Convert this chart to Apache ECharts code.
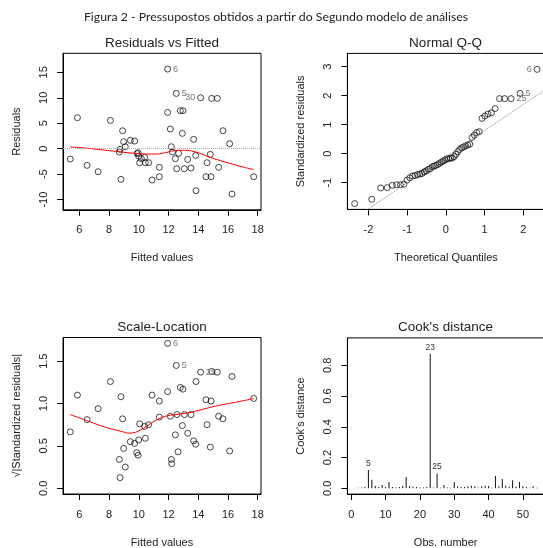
<!DOCTYPE html>
<html>
<head>
<meta charset="utf-8">
<script src="https://cdn.jsdelivr.net/npm/echarts@6/dist/echarts.min.js"></script>
<style>
html, body { margin: 0; padding: 0; background: #fff; }
#main { width: 543px; height: 548px; }
</style>
</head>
<body>
<div id="main"></div>
<script>
// Residuals vs Fitted
var rvfFitted = [5.39, 5.87, 6.52, 7.26, 8.09, 8.80, 8.69, 8.74, 8.91, 8.98, 9.09, 9.43, 9.72, 9.88, 9.95, 9.99, 10.06, 10.17,
    10.39, 10.44, 10.66, 10.89, 11.38, 11.38, 11.94, 11.94, 12.12, 12.19, 12.26, 12.46, 12.52, 12.55, 12.68, 12.79, 12.97,
    12.93, 13.06, 13.29, 13.51, 13.69, 13.83, 13.85, 14.16, 14.52, 14.59, 14.81, 14.86, 14.90, 15.28, 15.37, 15.66, 16.11,
    16.27, 17.73];
var rvfResid = [-2.03, 6.09, -3.27, -4.52, 5.56, -6.02, -0.65, -0.13, 3.53, 1.37, 0.39, 1.64, 1.51, -0.95, -0.79, -1.44, -2.75, -1.96,
    -1.70, -2.75, -2.75, -6.15, -3.66, -5.50, 15.64, 7.13, 3.86, 0.39, -0.65, -1.96, 10.86, -3.93, -0.92, 7.46, 7.46,
    3.01, -3.93, -2.09, -3.80, 1.83, -1.31, -8.25, 10.01, -5.50, -2.75, -1.11, -5.50, 9.88, 9.88, -3.66, 3.53, 0.98,
    -8.90, -5.50];
var rvfLabels = [[24, '6', 'right'], [30, '5', 'right'], [42, '30', 'left']];
var rvfSmoothX = [5.39, 6.5, 7.75, 8.87, 9.65, 10.5, 11.2, 11.9, 12.4, 13.0, 13.5, 14.1, 14.6, 15.2, 15.8, 16.4, 17.0, 17.73];
var rvfSmoothY = [0.35, 0.1, -0.3, -0.65, -0.9, -1.05, -1.05, -0.7, -0.35, -0.3, -0.4, -0.9, -1.5, -2.1, -2.6, -3.1, -3.6, -4.1];

// Normal Q-Q
var qqTheo = [-2.355, -1.914, -1.682, -1.515, -1.383, -1.271, -1.173, -1.085, -1.005, -0.931, -0.861, -0.796, -0.734, -0.674,
    -0.617, -0.562, -0.508, -0.456, -0.405, -0.355, -0.306, -0.258, -0.210, -0.163, -0.116, -0.070, -0.023,
    0.023, 0.070, 0.116, 0.163, 0.210, 0.258, 0.306, 0.355, 0.405, 0.456, 0.508, 0.562, 0.617, 0.674, 0.734,
    0.796, 0.861, 0.931, 1.005, 1.085, 1.173, 1.271, 1.383, 1.515, 1.682, 1.914, 2.355];
var qqStdRes = [-1.72, -1.57, -1.18, -1.17, -1.09, -1.07, -1.07, -1.05, -0.91, -0.83, -0.77, -0.75, -0.72, -0.70,
    -0.68, -0.63, -0.59, -0.54, -0.52, -0.45, -0.43, -0.40, -0.37, -0.33, -0.29, -0.25, -0.22,
    -0.17, -0.17, -0.15, -0.15, -0.10, -0.02, 0.07, 0.15, 0.20, 0.23, 0.27, 0.30, 0.33, 0.56, 0.64,
    0.73, 0.76, 1.22, 1.30, 1.37, 1.41, 1.56, 1.90, 1.90, 1.90, 2.08, 2.91];
var qqLabels = [[51, '25', 'right'], [52, '5', 'right'], [53, '6', 'left']];
var qqIntercept = -0.1;
var qqSlope = 0.9;

// Scale-Location
var slFitted = [5.39, 5.87, 6.52, 7.26, 8.09, 8.80, 8.69, 8.74, 8.91, 8.98, 9.09, 9.43, 9.72, 9.86, 9.95, 9.99, 10.06, 10.39,
    10.44, 10.66, 10.89, 11.38, 11.38, 11.94, 11.94, 12.12, 12.19, 12.21, 12.46, 12.52, 12.57, 12.64, 12.79, 12.97,
    12.93, 13.06, 13.29, 13.51, 13.69, 13.83, 13.85, 14.16, 14.52, 14.59, 14.81, 14.86, 14.90, 15.28, 15.37, 15.66,
    16.11, 16.27, 17.73];
var slSqrtRes = [0.665, 1.10, 0.81, 0.94, 1.26, 1.08, 0.34, 0.125, 0.82, 0.47, 0.25, 0.55, 0.53, 0.42, 0.39, 0.57, 0.76, 0.73,
    0.59, 0.75, 1.10, 1.03, 0.84, 1.71, 1.14, 0.85, 0.34, 0.29, 0.63, 1.45, 0.87, 0.43, 1.19, 1.17,
    0.74, 0.87, 0.65, 0.87, 0.56, 0.52, 1.26, 1.37, 1.045, 0.75, 0.485, 1.03, 1.38, 1.37, 0.85, 0.82,
    0.44, 1.32, 1.06];
var slLabels = [[23, '6', 'right'], [29, '5', 'right'], [41, '25', 'right']];
var slSmoothX = [5.39, 6.63, 7.75, 8.87, 9.32, 9.77, 10.44, 11.11, 11.78, 12.46, 13.35, 14.25, 15.15, 16.04, 16.94, 17.73];
var slSmoothY = [0.87, 0.79, 0.72, 0.67, 0.65, 0.66, 0.72, 0.80, 0.85, 0.87, 0.89, 0.93, 0.97, 1.00, 1.03, 1.06];

// Cook's distance (obs 1..54)
var cooksD = [0.002, 0.004, 0.006, 0.008, 0.119, 0.056, 0.015, 0.009, 0.022, 0.009,
    0.041, 0.009, 0.006, 0.008, 0.015, 0.074, 0.015, 0.010, 0.008, 0.006,
    0.006, 0.008, 0.875, 0.006, 0.097, 0.004, 0.022, 0.006, 0.004, 0.041,
    0.013, 0.009, 0.009, 0.013, 0.017, 0.013, 0.006, 0.013, 0.017, 0.015,
    0.004, 0.080, 0.013, 0.061, 0.017, 0.011, 0.052, 0.011, 0.041, 0.015,
    0.009, 0.004, 0.013, 0.004];
var cooksLabels = { 5: '5', 23: '23', 25: '25' };

// tick labels
var fittedTicks = [6, 8, 10, 12, 14, 16, 18];
var residTicks = [-10, -5, 0, 5, 10, 15];
var qqXTicks = [-2, -1, 0, 1, 2];
var qqYTicks = [-1, 0, 1, 2, 3];
var slYTicks = [0, 0.5, 1.0, 1.5];
var obsTicks = [0, 10, 20, 30, 40, 50];
var cooksTicks = [0, 0.2, 0.4, 0.6, 0.8];

var FONT = 'Liberation Sans, Arial, sans-serif';
var TXT = '#222';

function pairs(xs, ys) {
    var out = [];
    for (var i = 0; i < xs.length; i++) out.push([xs[i], ys[i]]);
    return out;
}

function labelled(xs, ys, labels) {
    var data = pairs(xs, ys);
    labels.forEach(function (l) {
        data[l[0]] = {
            value: data[l[0]],
            label: { show: true, formatter: l[1], position: l[2], distance: 2, fontSize: 9, color: '#555', fontFamily: FONT }
        };
    });
    return data;
}

function xAxisOf(gi, min, max, ticks, name, fmt) {
    return {
        type: 'value', gridIndex: gi, min: min, max: max,
        name: name, nameLocation: 'middle', nameGap: 43,
        nameTextStyle: { fontSize: 11, color: TXT, fontFamily: FONT },
        axisLine: { show: true, onZero: false, lineStyle: { color: '#000', width: 1 } },
        axisTick: { show: true, inside: false, length: 6, customValues: ticks, lineStyle: { color: '#000' } },
        axisLabel: { customValues: ticks, margin: 15, fontSize: 11, color: TXT, fontFamily: FONT,
            formatter: fmt || function (v) { return String(v); } },
        splitLine: { show: false }
    };
}

function yAxisOf(gi, min, max, ticks, name, fmt) {
    return {
        type: 'value', gridIndex: gi, min: min, max: max,
        name: name, nameLocation: 'middle', nameGap: 41, nameRotate: 90,
        nameTextStyle: { fontSize: 11, color: TXT, fontFamily: FONT },
        axisLine: { show: true, onZero: false, lineStyle: { color: '#000', width: 1 } },
        axisTick: { show: true, inside: false, length: 6, customValues: ticks, lineStyle: { color: '#000' } },
        axisLabel: { customValues: ticks, rotate: 90, margin: 14, fontSize: 11, color: TXT, fontFamily: FONT,
            formatter: fmt || function (v) { return String(v); } },
        splitLine: { show: false }
    };
}

var oneDec = function (v) { return v.toFixed(1); };

var pointStyle = { color: 'rgba(0,0,0,0)', borderColor: '#000', borderWidth: 0.9 };

var qqXMin = -2.543, qqXMax = 2.543, qqYMin = -1.92, qqYMax = 3.46;
var qqLineStart = (qqYMin - qqIntercept) / qqSlope;

var cooksData = cooksD.map(function (d, i) {
    var item = { value: [i + 1, d] };
    if (cooksLabels[i + 1]) {
        item.label = { show: true, position: 'top', formatter: cooksLabels[i + 1], distance: 2, fontSize: 8.5, color: '#333', fontFamily: FONT };
    }
    return item;
});

var gridBase = { show: true, borderColor: '#000', borderWidth: 1, backgroundColor: 'transparent', outerBoundsMode: 'none', containLabel: false };

var myChart = echarts.init(document.getElementById('main'));
var option = {
    animation: false,
    backgroundColor: '#fff',
    graphic: [
        { type: 'text', x: 276, y: 17, style: { text: 'Figura 2 - Pressupostos obtidos a partir do Segundo modelo de análises',
            textAlign: 'center', textVerticalAlign: 'middle', font: '12.3px Lato, sans-serif', fill: '#222' } },
        { type: 'text', x: 162, y: 43.5, style: { text: 'Residuals vs Fitted', textAlign: 'center', textVerticalAlign: 'middle',
            font: '13.5px ' + FONT, fill: TXT } },
        { type: 'text', x: 445.5, y: 43.5, style: { text: 'Normal Q-Q', textAlign: 'center', textVerticalAlign: 'middle',
            font: '13.5px ' + FONT, fill: TXT } },
        { type: 'text', x: 162, y: 327.5, style: { text: 'Scale-Location', textAlign: 'center', textVerticalAlign: 'middle',
            font: '13.5px ' + FONT, fill: TXT } },
        { type: 'text', x: 445.5, y: 327.5, style: { text: "Cook's distance", textAlign: 'center', textVerticalAlign: 'middle',
            font: '13.5px ' + FONT, fill: TXT } }
    ],
    grid: [
        Object.assign({ left: 63, top: 53.3, width: 198, height: 156.5 }, gridBase),
        Object.assign({ left: 347.4, top: 53.4, width: 197, height: 156 }, gridBase),
        Object.assign({ left: 63, top: 337.5, width: 198, height: 156.5 }, gridBase),
        Object.assign({ left: 347.4, top: 337.9, width: 196.5, height: 156.2 }, gridBase)
    ],
    xAxis: [
        xAxisOf(0, 4.9, 18.22, fittedTicks, 'Fitted values'),
        xAxisOf(1, qqXMin, qqXMax, qqXTicks, 'Theoretical Quantiles'),
        xAxisOf(2, 4.9, 18.22, fittedTicks, 'Fitted values'),
        xAxisOf(3, -1.12, 56.12, obsTicks, 'Obs. number')
    ],
    yAxis: [
        yAxisOf(0, -12.0, 18.74, residTicks, 'Residuals'),
        yAxisOf(1, qqYMin, qqYMax, qqYTicks, 'Standardized residuals'),
        yAxisOf(2, -0.068, 1.78, slYTicks, '√|Standardized residuals|', oneDec),
        yAxisOf(3, -0.0376, 0.978, cooksTicks, "Cook's distance", oneDec)
    ],
    series: [
        {
            type: 'scatter', xAxisIndex: 0, yAxisIndex: 0, symbol: 'circle', symbolSize: 6,
            itemStyle: pointStyle, data: labelled(rvfFitted, rvfResid, rvfLabels), silent: true,
            markLine: { silent: true, symbol: 'none', label: { show: false },
                lineStyle: { color: '#aaa', type: 'dotted', width: 1 }, data: [{ yAxis: 0 }] }
        },
        {
            type: 'line', xAxisIndex: 0, yAxisIndex: 0, showSymbol: false, smooth: 0.3, silent: true,
            lineStyle: { color: '#ff0000', width: 1 }, data: pairs(rvfSmoothX, rvfSmoothY)
        },
        {
            type: 'line', xAxisIndex: 1, yAxisIndex: 1, showSymbol: false, silent: true, clip: true,
            lineStyle: { color: '#888', type: 'dotted', width: 1 },
            data: [[qqLineStart, qqYMin], [qqXMax + 0.2, qqIntercept + qqSlope * (qqXMax + 0.2)]]
        },
        {
            type: 'scatter', xAxisIndex: 1, yAxisIndex: 1, symbol: 'circle', symbolSize: 6,
            itemStyle: pointStyle, data: labelled(qqTheo, qqStdRes, qqLabels), silent: true
        },
        {
            type: 'scatter', xAxisIndex: 2, yAxisIndex: 2, symbol: 'circle', symbolSize: 6,
            itemStyle: pointStyle, data: labelled(slFitted, slSqrtRes, slLabels), silent: true
        },
        {
            type: 'line', xAxisIndex: 2, yAxisIndex: 2, showSymbol: false, smooth: 0.3, silent: true,
            lineStyle: { color: '#ff0000', width: 1 }, data: pairs(slSmoothX, slSmoothY)
        },
        {
            type: 'bar', xAxisIndex: 3, yAxisIndex: 3, barWidth: 1, silent: true,
            itemStyle: { color: '#111' }, data: cooksData
        }
    ]
};
myChart.setOption(option);
</script>
</body>
</html>
